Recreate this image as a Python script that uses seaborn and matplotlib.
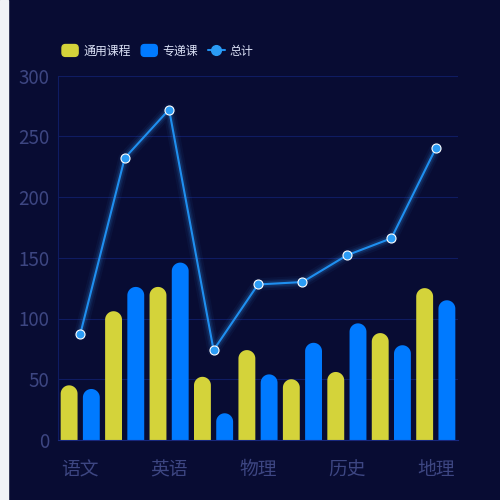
import numpy as np
import pandas as pd
import seaborn as sns
import matplotlib.pyplot as plt
from matplotlib.patches import FancyBboxPatch, Rectangle, Patch, Polygon
from matplotlib.lines import Line2D
from matplotlib.legend_handler import HandlerPatch

# data
categories = ['语文', '数学', '英语', '化学', '物理', '生物', '历史', '政治', '地理']
general = [45, 106, 126, 52, 74, 50, 56, 88, 125]    # 通用课程
special = [42, 126, 146, 22, 54, 80, 96, 78, 115]    # 专递课
total = [87, 232, 272, 74, 128, 130, 152, 166, 240]  # 总计
series_names = ['通用课程', '专递课', '总计']
yticks = [0, 50, 100, 150, 200, 250, 300]

bg = '#080c33'
yellow = '#d4d33a'
blue = '#007aff'
line_blue = '#1f8ff0'
grid_col = '#0f1c62'
tick_col = '#3d4682'

sns.set_theme(style='dark')
plt.rcParams['font.family'] = ['Noto Sans CJK SC', 'DejaVu Sans']

df = pd.DataFrame({
    '科目': categories * 2,
    '类型': [series_names[0]] * len(categories) + [series_names[1]] * len(categories),
    '课时': general + special,
})

fig = plt.figure(figsize=(5, 5), dpi=100, facecolor=bg)
fig.patches.append(Rectangle((0, 0), 8 / 500, 1, transform=fig.transFigure,
                             color='#f0f2f6', zorder=0))
ax = fig.add_axes([0.116, 0.12, 0.8, 0.729])
ax.set_facecolor(bg)

sns.barplot(data=df, x='科目', y='课时', hue='类型', palette=[yellow, blue],
            width=1.0, gap=0.24, saturation=1, linewidth=0, legend=False, ax=ax)

ax.set_xlim(-0.5, len(categories) - 0.5)
ax.set_ylim(0, 300)

# rounded tops: swap each bar for a shape with a semicircular cap
p0, p1 = ax.transData.transform([(0, 0), (1, 1)])
px, py = p1 - p0
t = np.linspace(0, np.pi, 40)
for bar in list(ax.patches):
    x, w, h = bar.get_x(), bar.get_width(), bar.get_height()
    r = w / 2
    ry = r * px / py
    cx, cy = x + r, h - ry
    cap = np.column_stack([cx + r * np.cos(t), cy + ry * np.sin(t)])
    verts = np.vstack([[x + w, 0], cap, [x, 0]])
    shape = Polygon(verts, closed=True, fc=bar.get_facecolor(), ec='none', zorder=2)
    bar.remove()
    ax.add_patch(shape)

# total line with soft glow
xs = np.arange(len(categories))
for lw, a in [(9, 0.05), (6, 0.08), (4, 0.12)]:
    sns.lineplot(x=xs, y=total, color='#3aa2ff', lw=lw, alpha=a, ax=ax,
                 zorder=3, legend=False)
sns.lineplot(x=xs, y=total, color=line_blue, lw=1.5, marker='o', markersize=6.5,
             markerfacecolor='#2b9cf5', markeredgecolor='white',
             markeredgewidth=0.8, ax=ax, zorder=4, legend=False)

ax.set_xticks(xs[::2])
ax.set_xticklabels(categories[::2])
ax.set_yticks(yticks)
ax.set_xlabel('')
ax.set_ylabel('')
ax.tick_params(axis='both', colors=tick_col, labelsize=13.5, length=0)
ax.tick_params(axis='y', pad=6)
ax.tick_params(axis='x', pad=14)
ax.grid(axis='y', color=grid_col, lw=0.8)
ax.grid(axis='x', visible=False)
for side in ['top', 'right']:
    ax.spines[side].set_visible(False)
ax.spines['left'].set_color(grid_col)
ax.spines['left'].set_linewidth(0.8)
ax.spines['bottom'].set_color('#18287e')
ax.spines['bottom'].set_linewidth(0.8)


def rounded_box(legend, orig_handle, xdescent, ydescent, width, height, fontsize):
    return FancyBboxPatch((-xdescent, -ydescent), width, height,
                          boxstyle='round,pad=0,rounding_size=2.5')


handles = [Patch(color=yellow), Patch(color=blue),
           Line2D([], [], color=line_blue, lw=1.5, marker='o', markersize=7,
                  markerfacecolor='#2b9cf5', markeredgecolor='#2b9cf5')]
leg = fig.legend(handles, series_names, loc='center left',
                 bbox_to_anchor=(62 / 500, 1 - 51 / 500), ncol=3, frameon=False,
                 fontsize=8.6, handlelength=1.35, handleheight=1.15,
                 handletextpad=0.45, columnspacing=0.85, borderpad=0,
                 borderaxespad=0,
                 handler_map={Patch: HandlerPatch(patch_func=rounded_box)})
for t_ in leg.get_texts():
    t_.set_color('#dbe1f6')

fig.savefig('out.png', dpi=100, facecolor=bg)
